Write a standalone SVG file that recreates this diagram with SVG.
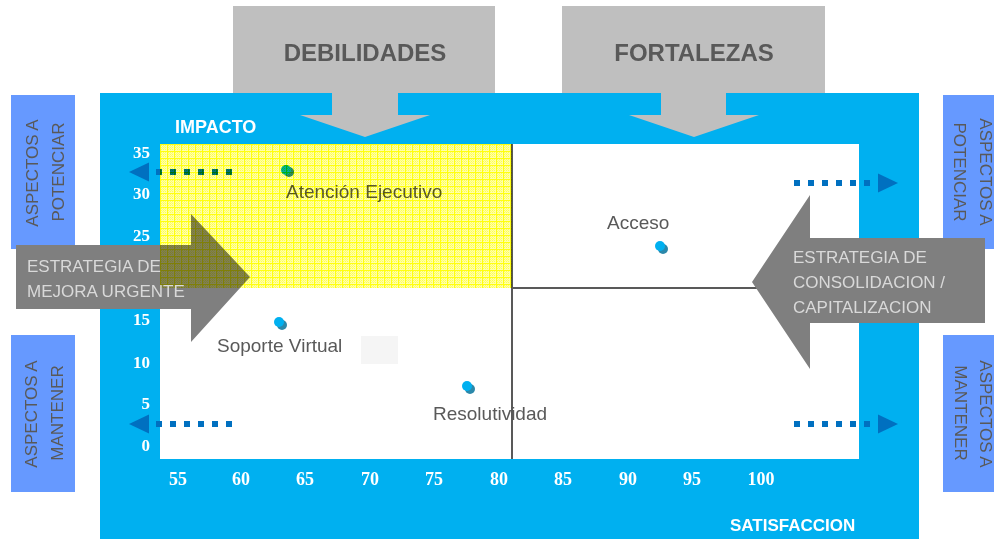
<svg xmlns="http://www.w3.org/2000/svg" width="994" height="539" viewBox="0 0 994 539">
<style>
.sans{font-family:"Liberation Sans",Arial,sans-serif}
.serif{font-family:"Liberation Serif","Times New Roman",serif;font-weight:bold;fill:#FFFFFF}
.tick{font-size:17px}
.xt{font-size:18px;text-anchor:middle}
.yt{text-anchor:end}
.callout{fill:#BFBFBF}
.calltxt{font-size:24px;font-weight:bold;fill:#595959;text-anchor:middle}
.side{fill:#6699FF}
.sidetxt{font-size:17px;fill:#595959;text-anchor:middle}
.strat{fill:#7F7F7F}
.strattxt{font-size:17px;fill:#D9D9D9}
.axis{font-size:18px;font-weight:bold;fill:#FFFFFF}
.lbl{font-size:19px;fill:#595959}
.dot{fill:#00B0F0}
.shadow{fill:#2B88AA}
.dotted{stroke:#0070C0;stroke-width:6;stroke-dasharray:6 8;fill:none}
.qline{stroke:#595959;stroke-width:2}
</style>
<defs>
<pattern id="yel" x="160" y="144" width="7" height="7" patternUnits="userSpaceOnUse">
<rect width="7" height="7" fill="#FFFFA8"/>
<rect x="1" y="1" width="1" height="1" fill="#FFFF50"/>
<rect x="3" y="3" width="1" height="1" fill="#FFFF50"/>
<rect x="5" y="5" width="1" height="1" fill="#FFFF50"/>
<rect x="3" y="1" width="1" height="1" fill="#FFFF50"/>
<rect x="1" y="5" width="1" height="1" fill="#FFFF50"/>
<rect x="5" y="1" width="1" height="1" fill="#FFFF50"/>
<rect x="1" y="3" width="1" height="1" fill="#FFFF50"/>
<rect x="5" y="3" width="1" height="1" fill="#FFFF50"/>
<rect x="3" y="5" width="1" height="1" fill="#FFFF50"/>
<rect x="2" y="2" width="1" height="1" fill="#FFFF70"/>
<rect x="4" y="4" width="1" height="1" fill="#FFFF70"/>
<rect x="2" y="4" width="1" height="1" fill="#FFFF70"/>
<rect x="4" y="2" width="1" height="1" fill="#FFFF70"/>
<rect x="0" y="0" width="7" height="1" fill="#FFFF10"/>
<rect x="0" y="0" width="1" height="7" fill="#FFFF10"/>
</pattern>
<marker id="ah" viewBox="0 0 30 24" refX="0" refY="12" markerWidth="30" markerHeight="24" markerUnits="userSpaceOnUse" orient="auto-start-reverse">
<path d="M7,2.5 L27,12 L7,21.5 Z" fill="#0070C0"/>
</marker>
</defs>

<g id="background">
<rect x="100" y="93" width="819" height="446" fill="#00B0F0"/>
</g>

<g id="debilidades">
<path class="callout" d="M233,6 H495 V93 H398 V115 H430 L365,137 L300,115 H332 V93 H233 Z"/>
<text class="sans calltxt" x="365" y="61">DEBILIDADES</text>
</g>
<g id="fortalezas">
<path class="callout" d="M562,6 H825 V93 H726 V115 H759 L694,137 L629,115 H661 V93 H562 Z"/>
<text class="sans calltxt" x="694" y="61">FORTALEZAS</text>
</g>

<g id="aspectos-potenciar-izq">
<rect class="side" x="11" y="95" width="64" height="154"/>
<text class="sans sidetxt" x="38" y="173" transform="rotate(-90 38 173)">ASPECTOS A</text>
<text class="sans sidetxt" x="64" y="172" transform="rotate(-90 64 172)">POTENCIAR</text>
</g>
<g id="aspectos-mantener-izq">
<rect class="side" x="11" y="335" width="64" height="157"/>
<text class="sans sidetxt" x="37" y="414" transform="rotate(-90 37 414)">ASPECTOS A</text>
<text class="sans sidetxt" x="63" y="413" transform="rotate(-90 63 413)">MANTENER</text>
</g>
<g id="aspectos-potenciar-der">
<rect class="side" x="943" y="95" width="57" height="154"/>
<text class="sans sidetxt" x="980" y="172" transform="rotate(90 980 172)">ASPECTOS A</text>
<text class="sans sidetxt" x="954" y="172" transform="rotate(90 954 172)">POTENCIAR</text>
</g>
<g id="aspectos-mantener-der">
<rect class="side" x="943" y="335" width="57" height="157"/>
<text class="sans sidetxt" x="980" y="414" transform="rotate(90 980 414)">ASPECTOS A</text>
<text class="sans sidetxt" x="955" y="413" transform="rotate(90 955 413)">MANTENER</text>
</g>

<g id="plot">
<rect x="160" y="144" width="699" height="315" fill="#FFFFFF"/>
<rect x="361" y="336" width="37" height="28" fill="#F5F5F5"/>
<line class="qline" x1="512" y1="144" x2="512" y2="459"/>
<line class="qline" x1="512" y1="288" x2="859" y2="288"/>
</g>

<g id="atencion-ejecutivo">
<circle class="shadow" cx="289" cy="172" r="5"/>
<circle class="dot" cx="286" cy="170" r="5"/>
<text class="sans lbl" x="286" y="198">Atención Ejecutivo</text>
</g>
<g id="acceso">
<circle class="shadow" cx="663" cy="249" r="5"/>
<circle class="dot" cx="660" cy="246" r="5"/>
<text class="sans lbl" x="607" y="229">Acceso</text>
</g>
<g id="soporte-virtual">
<circle class="shadow" cx="282" cy="325" r="5"/>
<circle class="dot" cx="279" cy="322" r="5"/>
<text class="sans lbl" x="217" y="352">Soporte Virtual</text>
</g>
<g id="resolutividad">
<circle class="shadow" cx="470" cy="389" r="5"/>
<circle class="dot" cx="467" cy="386" r="5"/>
<text class="sans lbl" x="433" y="420">Resolutividad</text>
</g>

<g id="estrategia-mejora">
<path class="strat" d="M16,245 H191 V214 L250,277 L191,342 V309 H16 Z"/>
</g>
<g id="estrategia-consolidacion">
<path class="strat" d="M985,238 H810 V195 L752,282 L810,369 V323 H985 Z"/>
<text class="sans strattxt" x="793" y="263">ESTRATEGIA DE</text>
<text class="sans strattxt" x="793" y="288">CONSOLIDACION /</text>
<text class="sans strattxt" x="793" y="313">CAPITALIZACION</text>
</g>

<g id="connectors">
<line class="dotted" x1="156" y1="172" x2="232" y2="172" marker-start="url(#ah)"/>
<line class="dotted" x1="156" y1="424" x2="232" y2="424" marker-start="url(#ah)"/>
<line class="dotted" x1="794" y1="183" x2="871" y2="183" marker-end="url(#ah)"/>
<line class="dotted" x1="794" y1="424" x2="871" y2="424" marker-end="url(#ah)"/>
</g>

<g id="zona-debilidades">
<rect x="160" y="144" width="352" height="144" fill="url(#yel)" style="mix-blend-mode:multiply"/>
</g>

<g id="estrategia-mejora-texto">
<text class="sans strattxt" x="27" y="272">ESTRATEGIA DE</text>
<text class="sans strattxt" x="27" y="297">MEJORA URGENTE</text>
</g>

<g id="ejes">
<text class="sans axis" x="175" y="133">IMPACTO</text>
<text class="sans axis" x="730" y="531" style="font-size:17px">SATISFACCION</text>
<g class="serif tick yt">
<text x="150" y="158">35</text>
<text x="150" y="199">30</text>
<text x="150" y="241">25</text>
<text x="150" y="325">15</text>
<text x="150" y="368">10</text>
<text x="150" y="409">5</text>
<text x="150" y="451">0</text>
</g>
<g class="serif xt">
<text x="178" y="485">55</text>
<text x="241" y="485">60</text>
<text x="305" y="485">65</text>
<text x="370" y="485">70</text>
<text x="434" y="485">75</text>
<text x="499" y="485">80</text>
<text x="563" y="485">85</text>
<text x="628" y="485">90</text>
<text x="692" y="485">95</text>
<text x="761" y="485">100</text>
</g>
</g>
</svg>
